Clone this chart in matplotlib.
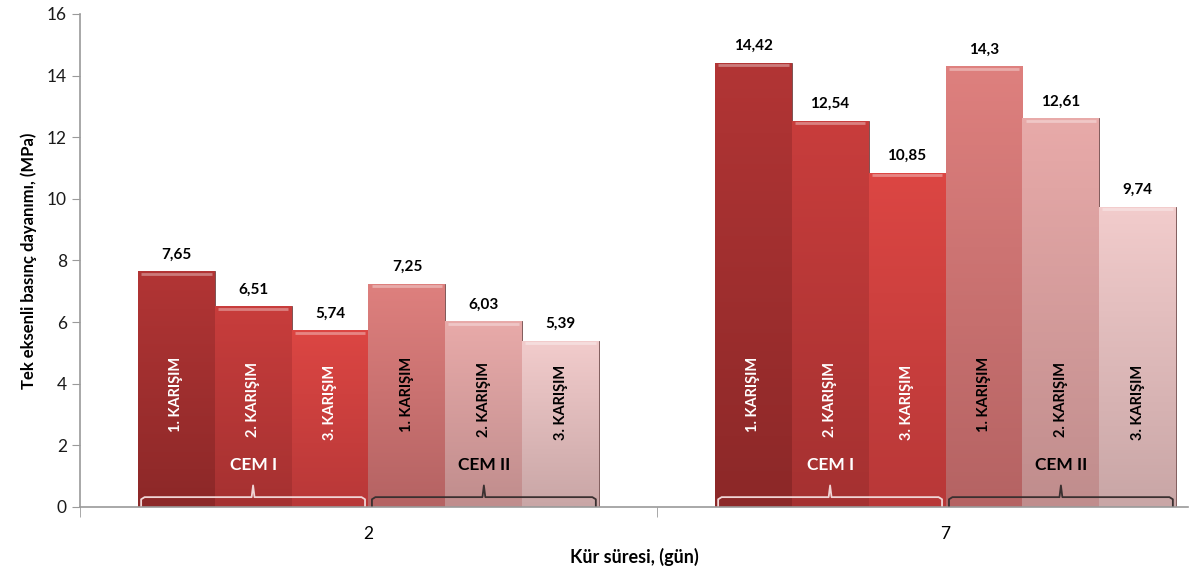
import numpy as np
import matplotlib.pyplot as plt
from matplotlib.colors import LinearSegmentedColormap

# kür süreleri (gün)
days = ['2', '7']
mixes = ['1. KARIŞIM', '2. KARIŞIM', '3. KARIŞIM']
groups = ['CEM I', 'CEM II']

# tek eksenli basınç dayanımı (MPa): seri sırası CEM I 1-3, CEM II 1-3
series = [
    [7.65, 14.42],
    [6.51, 12.54],
    [5.74, 10.85],
    [7.25, 14.3],
    [6.03, 12.61],
    [5.39, 9.74],
]
value_labels = [
    ['7,65', '14,42'],
    ['6,51', '12,54'],
    ['5,74', '10,85'],
    ['7,25', '14,3'],
    ['6,03', '12,61'],
    ['5,39', '9,74'],
]

# renkler: (üst, alt)
colors = [
    ('#b23535', '#8c2828'),
    ('#c83d3c', '#a53131'),
    ('#dc4643', '#b83838'),
    ('#de807e', '#b56363'),
    ('#e8aaa9', '#c08d8d'),
    ('#f2cccc', '#c9a6a6'),
]
text_colors = ['white', 'white', 'white', 'black', 'black', 'black']
label_y = [3.65, 3.5, 3.4, 3.65, 3.5, 3.4]

plt.rcParams['font.family'] = ['Lato', 'DejaVu Sans']

fig = plt.figure(figsize=(11.9, 5.76), dpi=100)
ax = fig.add_axes([0.0672, 0.1198, 0.9310, 0.8559])

x = np.arange(len(days))
n = len(series)
width = 0.8 / n

for i, vals in enumerate(series):
    pos = x - 0.4 + width * (i + 0.5)
    top, bottom = colors[i]
    cmap = LinearSegmentedColormap.from_list(f'g{i}', [bottom, top])
    bars = ax.bar(pos, vals, width, color=top, edgecolor='#6e4848', linewidth=0.6, zorder=2)
    for b, lab in zip(bars, value_labels[i]):
        x0, h = b.get_x(), b.get_height()
        grad = np.linspace(0, 1, 100).reshape(-1, 1)
        im = ax.imshow(grad, cmap=cmap, origin='lower', aspect='auto',
                       extent=(x0, x0 + width, 0, h), zorder=2.1)
        im.set_clip_path(b)
        # açık üst kenar
        ax.plot([x0 + width * 0.04, x0 + width * 0.96], [h - 0.08, h - 0.08],
                color='white', alpha=0.35, lw=2, zorder=2.2, solid_capstyle='butt')
        ax.annotate(lab, (x0 + width / 2, h), xytext=(0, 12), textcoords='offset points',
                    ha='center', va='center', fontsize=11, fontweight='bold', zorder=4)
        ax.text(x0 + width / 2, label_y[i], mixes[i % 3], rotation=90, ha='center',
                va='center', fontsize=10.5, fontweight='bold', color=text_colors[i], zorder=4)

# CEM I / CEM II köşeli parantezler
for k in range(len(days)):
    for g, name in enumerate(groups):
        left = k - 0.4 + width * 3 * g
        right = left + width * 3
        mid = (left + right) / 2
        c = '#f0d6d6' if g == 0 else '#3a3030'
        tc = 'white' if g == 0 else 'black'
        d = 0.006
        s = 0.0025
        ax.plot([left + d, left + d, left + 2 * d, mid - s, mid, mid + s, right - 2 * d, right - d, right - d],
                [0.05, 0.25, 0.32, 0.32, 0.7, 0.32, 0.32, 0.25, 0.05],
                color=c, lw=1.3, zorder=3)
        ax.text(mid, 1.35, name, ha='center', va='center', fontsize=12.5,
                fontweight='bold', color=tc, zorder=4)

ax.set_ylim(0, 16)
ax.set_yticks(np.arange(0, 17, 2))
ax.set_xlim(-0.5, 1.42)
ax.set_xticks(x)
ax.set_xticklabels(days)
ax.set_xticks([-0.5, 0.5], minor=True)
ax.tick_params(axis='x', which='major', length=0, pad=14, labelsize=12.5)
ax.tick_params(axis='x', which='minor', length=7, color='#9a9a9a')
ax.tick_params(axis='y', length=6, colors='#9a9a9a', labelcolor='#1a1a1a', labelsize=12.5)

for s in ['top', 'right']:
    ax.spines[s].set_visible(False)
for s in ['left', 'bottom']:
    ax.spines[s].set_color('#9a9a9a')
    ax.spines[s].set_linewidth(1.2)

ax.set_ylabel('Tek eksenli basınç dayanımı, (MPa)', fontsize=12, fontweight='bold', labelpad=7)
ax.set_xlabel('Kür süresi, (gün)', fontsize=13, fontweight='bold', labelpad=4)

plt.savefig('out.png', dpi=100)
